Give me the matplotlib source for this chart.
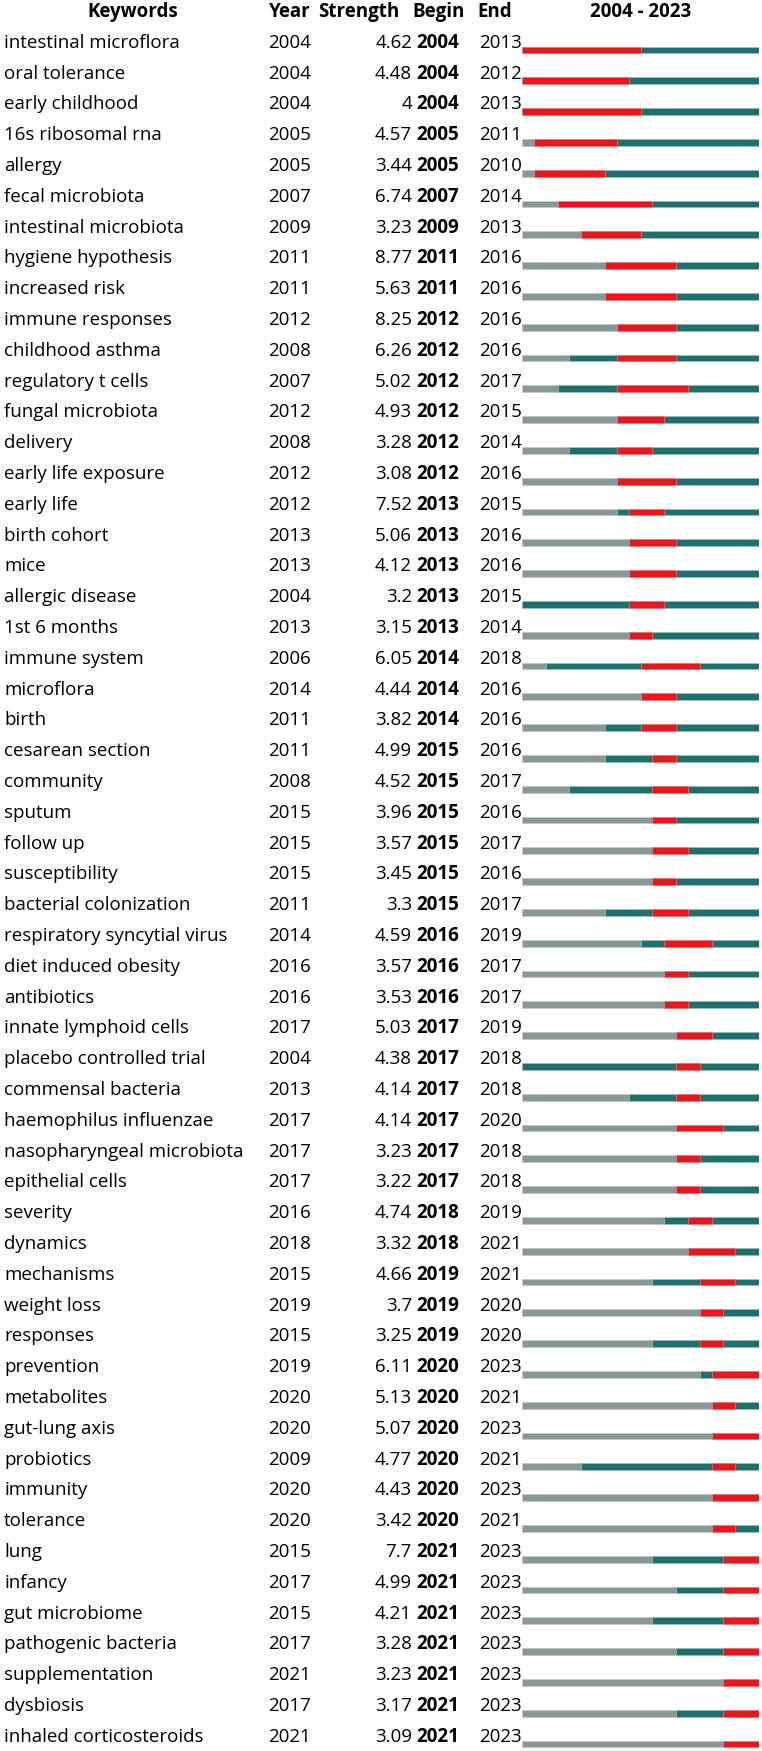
import matplotlib
matplotlib.use('Agg')
import matplotlib.pyplot as plt

keywords = ['intestinal microflora', 'oral tolerance', 'early childhood', '16s ribosomal rna', 'allergy',
            'fecal microbiota', 'intestinal microbiota', 'hygiene hypothesis', 'increased risk',
            'immune responses', 'childhood asthma', 'regulatory t cells', 'fungal microbiota', 'delivery',
            'early life exposure', 'early life', 'birth cohort', 'mice', 'allergic disease', '1st 6 months',
            'immune system', 'microflora', 'birth', 'cesarean section', 'community', 'sputum', 'follow up',
            'susceptibility', 'bacterial colonization', 'respiratory syncytial virus', 'diet induced obesity',
            'antibiotics', 'innate lymphoid cells', 'placebo controlled trial', 'commensal bacteria',
            'haemophilus influenzae', 'nasopharyngeal microbiota', 'epithelial cells', 'severity', 'dynamics',
            'mechanisms', 'weight loss', 'responses', 'prevention', 'metabolites', 'gut-lung axis',
            'probiotics', 'immunity', 'tolerance', 'lung', 'infancy', 'gut microbiome', 'pathogenic bacteria',
            'supplementation', 'dysbiosis', 'inhaled corticosteroids']
years = [2004, 2004, 2004, 2005, 2005, 2007, 2009, 2011, 2011, 2012, 2008, 2007, 2012, 2008, 2012,
         2012, 2013, 2013, 2004, 2013, 2006, 2014, 2011, 2011, 2008, 2015, 2015, 2015, 2011, 2014,
         2016, 2016, 2017, 2004, 2013, 2017, 2017, 2017, 2016, 2018, 2015, 2019, 2015, 2019, 2020,
         2020, 2009, 2020, 2020, 2015, 2017, 2015, 2017, 2021, 2017, 2021]
strength = [4.62, 4.48, 4, 4.57, 3.44, 6.74, 3.23, 8.77, 5.63, 8.25, 6.26, 5.02, 4.93, 3.28, 3.08,
            7.52, 5.06, 4.12, 3.2, 3.15, 6.05, 4.44, 3.82, 4.99, 4.52, 3.96, 3.57, 3.45, 3.3, 4.59,
            3.57, 3.53, 5.03, 4.38, 4.14, 4.14, 3.23, 3.22, 4.74, 3.32, 4.66, 3.7, 3.25, 6.11, 5.13,
            5.07, 4.77, 4.43, 3.42, 7.7, 4.99, 4.21, 3.28, 3.23, 3.17, 3.09]
begin = [2004, 2004, 2004, 2005, 2005, 2007, 2009, 2011, 2011, 2012, 2012, 2012, 2012, 2012, 2012,
         2013, 2013, 2013, 2013, 2013, 2014, 2014, 2014, 2015, 2015, 2015, 2015, 2015, 2015, 2016,
         2016, 2016, 2017, 2017, 2017, 2017, 2017, 2017, 2018, 2018, 2019, 2019, 2019, 2020, 2020,
         2020, 2020, 2020, 2020, 2021, 2021, 2021, 2021, 2021, 2021, 2021]
end = [2013, 2012, 2013, 2011, 2010, 2014, 2013, 2016, 2016, 2016, 2016, 2017, 2015, 2014, 2016,
       2015, 2016, 2016, 2015, 2014, 2018, 2016, 2016, 2016, 2017, 2016, 2017, 2016, 2017, 2019,
       2017, 2017, 2019, 2018, 2018, 2020, 2018, 2018, 2019, 2021, 2021, 2020, 2020, 2023, 2021,
       2023, 2021, 2023, 2021, 2023, 2023, 2023, 2023, 2023, 2023, 2023]
first_year, last_year = 2004, 2023

RED = '#e8161d'
TEAL = '#1f706d'
GRAY = '#879896'

plt.rcParams['font.family'] = ['Open Sans', 'DejaVu Sans']
FS = 13.5

W, H = 762, 1751
fig = plt.figure(figsize=(W / 100, H / 100), dpi=100)

# rows: index i sits at pixel y = 50 + 30.8 * i
pitch, y0 = 30.8, 50
ylim = ((H - y0) / pitch, -y0 / pitch)

# text layer, x in pixels, y in row units
ax = fig.add_axes([0, 0, 1, 1])
ax.set_xlim(0, W)
ax.set_ylim(*ylim)
ax.axis('off')

# bar layer, x in years
bx0, bx1 = 522, 759
axb = fig.add_axes([bx0 / W, 0, (bx1 - bx0) / W, 1])
axb.set_xlim(first_year, last_year + 1)
axb.set_ylim(*ylim)
axb.axis('off')

hy = -1.08
ax.text(133, hy, 'Keywords', ha='center', va='baseline', fontsize=FS, fontweight='bold')
ax.text(269, hy, 'Year', ha='left', va='baseline', fontsize=FS, fontweight='bold')
ax.text(318, hy, 'Strength', ha='left', va='baseline', fontsize=FS, fontweight='bold')
ax.text(412, hy, 'Begin', ha='left', va='baseline', fontsize=FS, fontweight='bold')
ax.text(477, hy, 'End', ha='left', va='baseline', fontsize=FS, fontweight='bold')
ax.text((bx0 + bx1) / 2, hy, f'{first_year} - {last_year}', ha='center', va='baseline',
        fontsize=FS, fontweight='bold')

n = len(keywords)
rows = list(range(n))
for i in rows:
    yb = i - 0.07
    ax.text(4, yb, keywords[i], ha='left', va='baseline', fontsize=FS)
    ax.text(268, yb, str(years[i]), ha='left', va='baseline', fontsize=FS)
    ax.text(412, yb, f'{strength[i]:g}', ha='right', va='baseline', fontsize=FS)
    ax.text(416, yb, str(begin[i]), ha='left', va='baseline', fontsize=FS, fontweight='bold')
    ax.text(479, yb, str(end[i]), ha='left', va='baseline', fontsize=FS)

bh = 0.22
axb.barh(rows, [y - first_year for y in years], left=first_year, height=bh, color=GRAY,
         edgecolor='#b8c4c3', linewidth=0.4)
axb.barh(rows, [last_year + 1 - y for y in years], left=years, height=bh, color=TEAL,
         edgecolor='#9fbfbd', linewidth=0.4)
axb.barh(rows, [e + 1 - b for b, e in zip(begin, end)], left=begin, height=bh, color=RED,
         edgecolor='#f28a8d', linewidth=0.4)

fig.savefig('out.png', dpi=100, facecolor='white')
